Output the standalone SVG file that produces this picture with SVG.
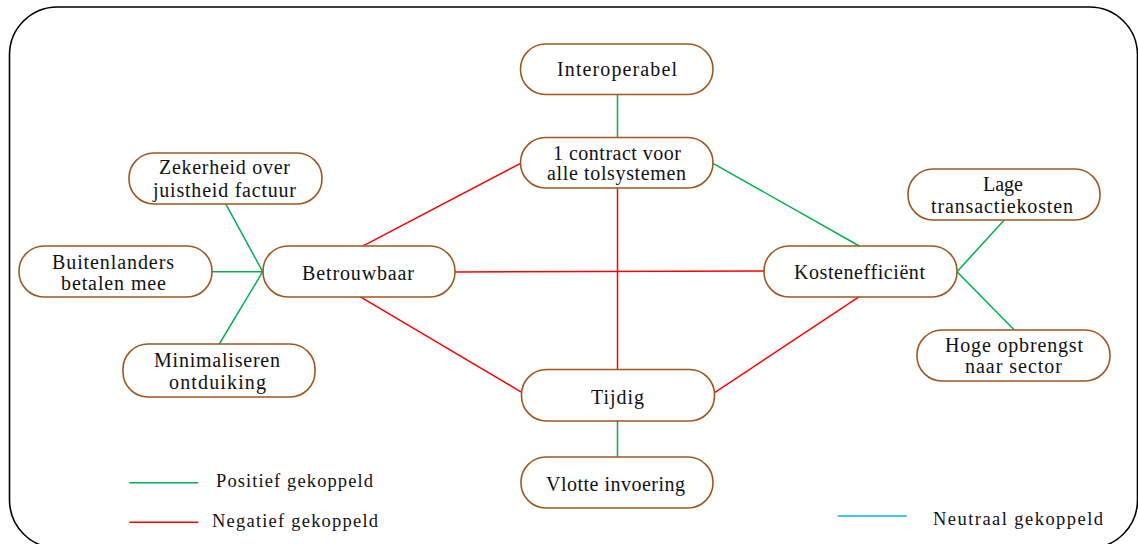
<svg xmlns="http://www.w3.org/2000/svg" width="1138" height="544" viewBox="0 0 1138 544">
<style>
.node{fill:#fff;stroke:#A0561E;stroke-width:1.6}
.t{font-family:"Liberation Serif","Times New Roman","DejaVu Serif",serif;font-size:20px;fill:#111}
.lg{font-family:"Liberation Serif","Times New Roman","DejaVu Serif",serif;font-size:18.5px;fill:#111}
.pos{stroke:#00B050;stroke-width:1.5;fill:none}
.neg{stroke:#FF0000;stroke-width:1.5;fill:none}
.neu{stroke:#00B0F0;stroke-width:1.5;fill:none}
</style>
<rect x="9.5" y="7" width="1128" height="541" rx="48" ry="48" fill="#fff" stroke="#000" stroke-width="1.6"/>
<g id="connectors">
<line class="pos" x1="617.5" y1="94.5" x2="617.5" y2="137.5"/>
<line class="neg" x1="520.7" y1="163.3" x2="361.7" y2="246.7"/>
<line class="pos" x1="713" y1="163.3" x2="859.3" y2="246"/>
<line class="neg" x1="617.5" y1="188" x2="617.5" y2="369.5"/>
<line class="neg" x1="455" y1="272" x2="764" y2="271"/>
<line class="neg" x1="360" y1="296.7" x2="521.7" y2="392.3"/>
<line class="neg" x1="715" y1="392.3" x2="859.3" y2="296.7"/>
<line class="pos" x1="617.5" y1="421" x2="617.5" y2="457"/>
<line class="pos" x1="226" y1="204.3" x2="262.7" y2="271.7"/>
<line class="pos" x1="212" y1="271.7" x2="262.7" y2="271.7"/>
<line class="pos" x1="219.3" y1="344" x2="262.7" y2="271.7"/>
<line class="pos" x1="957" y1="271.7" x2="1004" y2="220.3"/>
<line class="pos" x1="957" y1="271.7" x2="1014.3" y2="330"/>
</g>
<g id="interoperabel"><rect class="node" x="520.5" y="44" width="192.5" height="50.5" rx="25"/><text class="t" x="557" y="76" textLength="120" lengthAdjust="spacing">Interoperabel</text></g>
<g id="contract"><rect class="node" x="520.5" y="137.5" width="192.5" height="50.5" rx="25"/><text class="t" x="553" y="159.5" textLength="128" lengthAdjust="spacing">1 contract voor</text><text class="t" x="547" y="180" textLength="139" lengthAdjust="spacing">alle tolsystemen</text></g>
<g id="zekerheid"><rect class="node" x="129" y="153" width="193" height="51" rx="25"/><text class="t" x="159" y="174" textLength="131" lengthAdjust="spacing">Zekerheid over</text><text class="t" x="153" y="196.5" textLength="143" lengthAdjust="spacing">juistheid factuur</text></g>
<g id="buitenlanders"><rect class="node" x="19" y="246" width="193" height="51" rx="25"/><text class="t" x="52" y="268.5" textLength="122" lengthAdjust="spacing">Buitenlanders</text><text class="t" x="61" y="289.5" textLength="105" lengthAdjust="spacing">betalen mee</text></g>
<g id="betrouwbaar"><rect class="node" x="263" y="246" width="192" height="51" rx="25"/><text class="t" x="302" y="280" textLength="112" lengthAdjust="spacing">Betrouwbaar</text></g>
<g id="minimaliseren"><rect class="node" x="123" y="344" width="192" height="53" rx="25"/><text class="t" x="154" y="366.7" textLength="126" lengthAdjust="spacing">Minimaliseren</text><text class="t" x="169" y="389" textLength="97" lengthAdjust="spacing">ontduiking</text></g>
<g id="kostenefficient"><rect class="node" x="764" y="246" width="193" height="51" rx="25"/><text class="t" x="794" y="278.7" textLength="131" lengthAdjust="spacing">Kostenefficiënt</text></g>
<g id="lage"><rect class="node" x="908" y="169" width="192" height="51" rx="25"/><text class="t" x="983" y="190.7" textLength="40" lengthAdjust="spacing">Lage</text><text class="t" x="931" y="212.7" textLength="142" lengthAdjust="spacing">transactiekosten</text></g>
<g id="hoge"><rect class="node" x="917" y="330" width="193" height="51" rx="25"/><text class="t" x="945" y="351.7" textLength="138" lengthAdjust="spacing">Hoge opbrengst</text><text class="t" x="965" y="372.7" textLength="97" lengthAdjust="spacing">naar sector</text></g>
<g id="tijdig"><rect class="node" x="521.5" y="369.5" width="193" height="51.5" rx="25"/><text class="t" x="591" y="404" textLength="53" lengthAdjust="spacing">Tijdig</text></g>
<g id="vlotte"><rect class="node" x="521" y="457" width="192" height="51" rx="25"/><text class="t" x="546" y="490.7" textLength="139" lengthAdjust="spacing">Vlotte invoering</text></g>
<g id="legend">
<line class="pos" x1="129.3" y1="482.7" x2="198.3" y2="482.7"/>
<text class="lg" x="216" y="486.7" textLength="157" lengthAdjust="spacing">Positief gekoppeld</text>
<line class="neg" x1="129.3" y1="522.3" x2="198.3" y2="522.3"/>
<text class="lg" x="212" y="526.7" textLength="166" lengthAdjust="spacing">Negatief gekoppeld</text>
<line class="neu" x1="837.7" y1="516" x2="906.7" y2="516"/>
<text class="lg" x="933" y="525" textLength="170" lengthAdjust="spacing">Neutraal gekoppeld</text>
</g>
</svg>
